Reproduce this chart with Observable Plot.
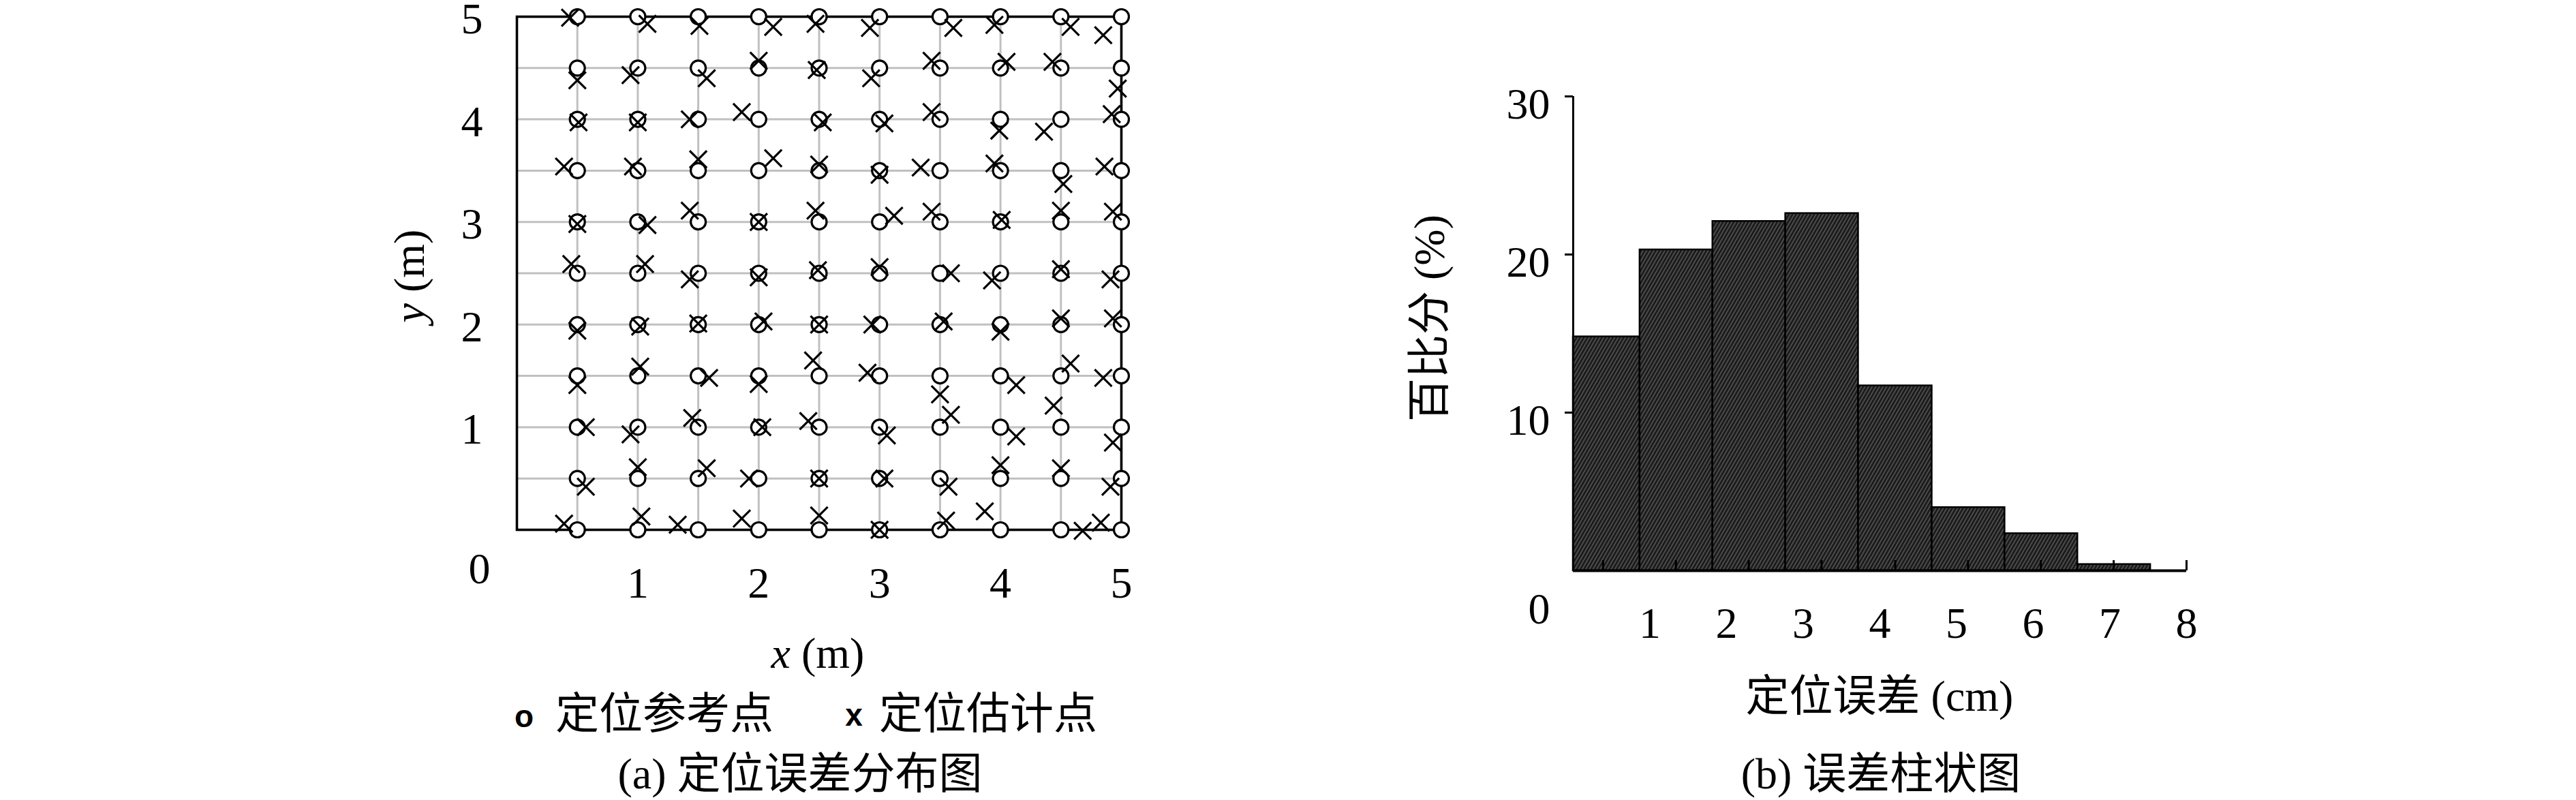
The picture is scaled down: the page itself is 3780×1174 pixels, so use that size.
<!DOCTYPE html>
<html><head><meta charset="utf-8">
<script src="https://cdn.jsdelivr.net/npm/d3@7"></script>
<script src="https://cdn.jsdelivr.net/npm/@observablehq/plot@0.6"></script>
<style>
html,body{margin:0;padding:0;background:#fff;}
#page{position:relative;width:3780px;height:1174px;overflow:hidden;background:#fff;font-family:'Liberation Serif','Noto Sans CJK SC',serif;color:#000;font-size:64px;}
.abs{position:absolute;white-space:nowrap;line-height:1;}
.c{transform:translate(-50%,-50%);}
.l{transform:translate(0,-50%);}
.rot{transform:translate(-50%,-50%) rotate(-90deg);}
.sym{font-family:'Liberation Sans',sans-serif;font-weight:bold;font-size:46px;}
</style></head><body><div id="page"></div>
<script>
// ---------------- data: (a) 定位误差分布图 ----------------
const refX = [0.5, 1, 1.5, 2, 2.5, 3, 3.5, 4, 4.5, 5];
const refY = [5, 4.5, 4, 3.5, 3, 2.5, 2, 1.5, 1, 0.5, 0];
// estimated positions, one row per reference row (same order as refY)
const estX = [
  [0.44,1.08,1.51,2.12,2.47,2.92,3.61,3.95,4.58,4.85],
  [0.50,0.94,1.57,2.00,2.48,2.93,3.43,4.05,4.43,4.97],
  [0.51,1.00,1.43,1.86,2.53,3.04,3.43,3.99,4.36,4.92],
  [0.39,0.96,1.50,2.12,2.50,3.00,3.34,3.95,4.52,4.86],
  [0.50,1.08,1.43,2.00,2.47,3.12,3.43,4.01,4.50,4.93],
  [0.45,1.06,1.43,2.00,2.49,3.00,3.59,3.93,4.50,4.91],
  [0.50,1.02,1.50,2.04,2.50,2.94,3.53,4.00,4.50,4.93],
  [0.50,1.02,1.59,2.00,2.45,2.90,3.50,4.13,4.58,4.85],
  [0.57,0.94,1.45,2.03,2.41,3.06,3.59,4.13,4.44,4.93],
  [0.57,1.00,1.57,1.92,2.50,3.04,3.57,4.00,4.50,4.91],
  [0.39,1.03,1.33,1.86,2.50,3.00,3.55,3.87,4.68,4.83]
];
const estY = [
  [4.99,4.93,4.91,4.90,4.93,4.89,4.89,4.92,4.90,4.82],
  [4.38,4.43,4.40,4.57,4.48,4.40,4.57,4.56,4.56,4.30],
  [3.97,3.97,4.00,4.07,3.97,3.96,4.07,3.89,3.88,4.05],
  [3.54,3.54,3.61,3.62,3.56,3.46,3.53,3.57,3.37,3.54],
  [2.98,2.97,3.11,3.00,3.11,3.06,3.10,3.02,3.11,3.10],
  [2.59,2.59,2.44,2.46,2.53,2.56,2.50,2.43,2.54,2.44],
  [1.94,1.98,2.01,2.03,2.00,2.00,2.03,1.93,2.06,2.06],
  [1.41,1.59,1.48,1.42,1.65,1.53,1.32,1.41,1.62,1.48],
  [1.00,0.93,1.09,1.00,1.06,0.92,1.12,0.91,1.21,0.85],
  [0.42,0.61,0.60,0.50,0.50,0.50,0.42,0.63,0.60,0.42],
  [0.06,0.13,0.05,0.11,0.14,0.00,0.09,0.18,-0.01,0.07]
];
const xTicksA = [1, 2, 3, 4, 5];
const yTicksA = [1, 2, 3, 4, 5];
const cornerLabel = "0";

// ---------------- data: (b) 误差柱状图 ----------------
const binStart = [0, 0.87, 1.82, 2.77, 3.72, 4.68, 5.63, 6.58];
const binEnd   = [0.87, 1.82, 2.77, 3.72, 4.68, 5.63, 6.58, 7.53];
const percent  = [14.8, 20.3, 22.1, 22.6, 11.7, 4.0, 2.35, 0.4];
const barTickPos = [0.39, 1.34, 2.29, 3.24, 4.20, 5.15, 6.10, 7.05, 8.0];
const xTicksB = [1, 2, 3, 4, 5, 6, 7, 8];
const yTicksB = [10, 20, 30];

// ---------------- texts ----------------
const xLabelA = "<i>x</i> (m)";
const yLabelA = "<i>y</i> (m)";
const legendRef = "定位参考点";
const legendEst = "定位估计点";
const captionA = "(a) 定位误差分布图";
const xLabelB = "定位误差 (cm)";
const yLabelB = "百比分 (%)";
const captionB = "(b) 误差柱状图";

const page = document.getElementById("page");
const baseStyle = {fontFamily: "'Liberation Serif', serif", fontSize: "64px", background: "transparent", overflow: "visible", color: "#000"};
const intFmt = d => String(d);

// ---------------- chart (a) ----------------
const refPts = refY.flatMap(y => refX.map(x => ({x, y})));
const estPts = estX.flatMap((row, i) => row.map((x, j) => ({x, y: estY[i][j]})));
const chartA = Plot.plot({
  width: 1900, height: 1174,
  marginLeft: 758, marginRight: 255, marginTop: 24, marginBottom: 397,
  style: baseStyle,
  x: {domain: [0, 5]},
  y: {domain: [0, 5]},
  marks: [
    Plot.ruleX(refX.filter(v => v < 5), {stroke: "#c0c0c0", strokeWidth: 3}),
    Plot.ruleY(refY.filter(v => v > 0 && v < 5), {stroke: "#c0c0c0", strokeWidth: 3}),
    Plot.frame({stroke: "#000", strokeWidth: 3.6}),
    Plot.dot(refPts, {x: "x", y: "y", r: 11, fill: "#fff", stroke: "#000", strokeWidth: 3.2}),
    Plot.dot(estPts, {x: "x", y: "y", symbol: "times", r: 11.5, stroke: "#000", strokeWidth: 3.2}),
    Plot.axisX(xTicksA, {tickSize: 0, tickPadding: 54, fontSize: 64, tickFormat: intFmt, label: null}),
    Plot.axisY(yTicksA, {tickSize: 0, tickPadding: 50, dy: 4, fontSize: 64, tickFormat: intFmt, label: null}),
    Plot.text([cornerLabel], {text: d => d, frameAnchor: "bottom-left", dx: -71, dy: 78, fontSize: 64})
  ]
});
chartA.style.position = "absolute"; chartA.style.left = "0px"; chartA.style.top = "0px";
page.appendChild(chartA);

// ---------------- chart (b) ----------------
const bars = percent.map((v, i) => ({x1: binStart[i], x2: binEnd[i], v}));
const chartB = Plot.plot({
  width: 1880, height: 1174,
  marginLeft: 408, marginRight: 572, marginTop: 141, marginBottom: 337,
  style: baseStyle,
  x: {domain: [0, 8]},
  y: {domain: [0, 30]},
  marks: [
    Plot.rect(bars, {x1: "x1", x2: "x2", y1: 0, y2: "v", fill: "url(#hatchB)", stroke: "#000", strokeWidth: 2.5}),
    Plot.ruleX(barTickPos, {stroke: "#000", strokeWidth: 3, insetTop: 681}),
    Plot.ruleY([0], {x1: 0, x2: 8, stroke: "#000", strokeWidth: 4}),
    Plot.ruleX([0], {y1: 0, y2: 30, stroke: "#000", strokeWidth: 3}),
    Plot.axisY(yTicksB, {tickSize: 12, strokeWidth: 3, tickFormat: () => "", label: null}),
    Plot.axisY(yTicksB, {tickSize: 0, tickPadding: 34, dy: 12, fontSize: 64, tickFormat: intFmt, label: null}),
    Plot.axisX(xTicksB, {tickSize: 0, tickPadding: 53, fontSize: 64, tickFormat: intFmt, label: null}),
    Plot.text([cornerLabel], {text: d => d, frameAnchor: "bottom-left", dx: -66, dy: 77, fontSize: 64})
  ]
});
d3.select(chartB).insert("defs", ":first-child").html(
  `<pattern id="hatchB" width="4.6" height="12" patternUnits="userSpaceOnUse" patternTransform="rotate(30)">
     <rect width="4.6" height="12" fill="#1b1b1b"></rect>
     <rect width="1.6" height="12" fill="#555"></rect>
   </pattern>`);
chartB.style.position = "absolute"; chartB.style.left = "1900px"; chartB.style.top = "0px";
page.appendChild(chartB);

// ---------------- labels, legend, captions ----------------
function addText(html, cls, left, top) {
  const d = document.createElement("div");
  d.className = "abs " + cls;
  d.style.left = left + "px";
  d.style.top = top + "px";
  d.innerHTML = html;
  page.appendChild(d);
}
addText(xLabelA, "c", 1200, 959);
addText(yLabelA, "rot", 601, 405);
addText('<span class="sym">o</span>', "c", 769, 1046);
addText(legendRef, "l", 815, 1048);
addText('<span class="sym">x</span>', "c", 1253, 1044);
addText(legendEst, "l", 1290, 1048);
addText(captionA, "c", 1174, 1136);
addText(xLabelB, "c", 2758, 1022);
addText(yLabelB, "rot", 2098, 467);
addText(captionB, "c", 2760, 1136);
</script></body></html>
